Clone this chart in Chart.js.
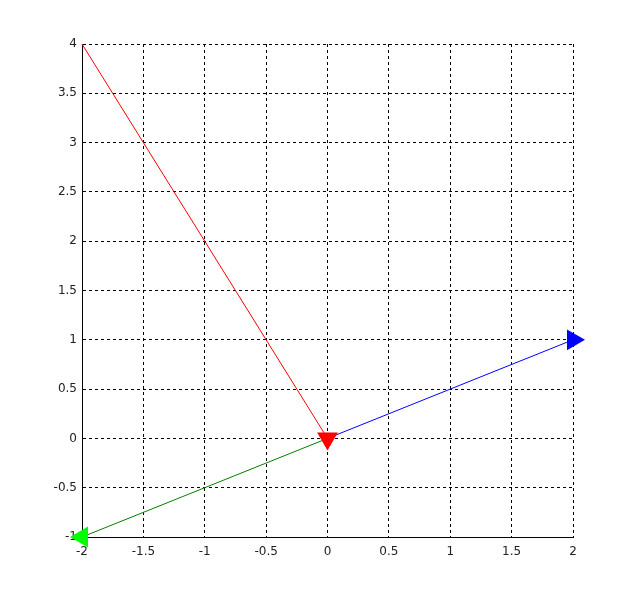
<!DOCTYPE html>
<html>
<head>
<meta charset="utf-8">
<script src="https://cdn.jsdelivr.net/npm/chart.js@4/dist/chart.umd.min.js"></script>
<style>
  html, body { margin: 0; padding: 0; background: #fff; }
  #wrap { width: 633px; height: 603px; }
</style>
</head>
<body>
<div id="wrap"><canvas id="c"></canvas></div>
<script>
// 数据
const xTicks = [-2, -1.5, -1, -0.5, 0, 0.5, 1, 1.5, 2];
const yTicks = [-1, -0.5, 0, 0.5, 1, 1.5, 2, 2.5, 3, 3.5, 4];
const redLine = [{x: -2, y: 4}, {x: 0, y: 0}];
const blueLine = [{x: 0, y: 0}, {x: 2, y: 1}];
const greenLine = [{x: 0, y: 0}, {x: -2, y: -1}];

// 只在终点画箭头
function arrow(lineColor, headColor, data, rot) {
  return {
    data: data,
    showLine: true,
    borderColor: lineColor,
    borderWidth: 1,
    backgroundColor: headColor,
    pointBackgroundColor: headColor,
    pointBorderColor: headColor,
    pointBorderWidth: 0,
    pointStyle: 'triangle',
    pointRotation: rot,
    pointRadius: data.map((p, i) => i === data.length - 1 ? 12 : 0),
    pointHoverRadius: 0
  };
}

function axis(ticks, min, max, pad) {
  return {
    type: 'linear',
    min: min,
    max: max,
    afterBuildTicks: s => { s.ticks = ticks.map(v => ({value: v})); },
    grid: { color: '#000', lineWidth: 1, drawTicks: false },
    border: { display: true, color: '#000', width: 1, dash: [3, 3] },
    ticks: {
      color: '#222',
      font: { family: 'DejaVu Sans', size: 12 },
      padding: pad,
      callback: v => String(v)
    }
  };
}

const xScale = axis(xTicks, -2, 2, 8);
xScale.afterFit = s => { s.height = 22; };
const yScale = axis(yTicks, -1, 4, 5);
yScale.afterFit = s => { s.width = 82; };

new Chart(document.getElementById('c'), {
  type: 'scatter',
  data: {
    datasets: [
      arrow('#ff0000', '#ff0000', redLine, 180),
      arrow('#0000ff', '#0000ff', blueLine, 90),
      arrow('#008000', '#00ff00', greenLine, -90)
    ]
  },
  options: {
    responsive: true,
    maintainAspectRatio: false,
    animation: false,
    clip: false,
    layout: { padding: { left: 0, top: 44, right: 60, bottom: 44 } },
    plugins: { legend: { display: false }, tooltip: { enabled: false } },
    scales: { x: xScale, y: yScale }
  }
});
</script>
</body>
</html>
